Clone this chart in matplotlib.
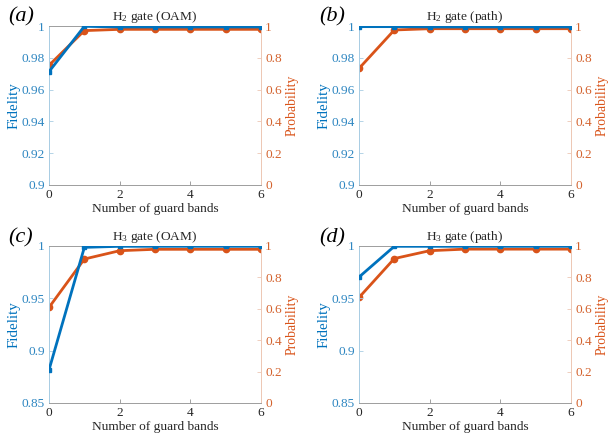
import matplotlib
matplotlib.use("Agg")
import matplotlib.pyplot as plt
import numpy as np

plt.rcParams['font.family'] = ['Liberation Serif', 'DejaVu Serif']
plt.rcParams['mathtext.fontset'] = 'custom'
plt.rcParams['mathtext.rm'] = 'Liberation Serif'
plt.rcParams['mathtext.it'] = 'Liberation Serif:italic'

guard_bands = [0, 1, 2, 3, 4, 5, 6]

fid_a = [0.9713, 0.9998, 0.9994, 0.9994, 0.9994, 0.9994, 0.9994]
prob_a = [0.753, 0.971, 0.979, 0.979, 0.979, 0.979, 0.979]
fid_b = [0.9996, 0.9996, 0.9994, 0.9994, 0.9994, 0.9994, 0.9994]
prob_b = [0.733, 0.975, 0.983, 0.983, 0.983, 0.983, 0.983]
fid_c = [0.8817, 0.9987, 0.9997, 0.9997, 0.9997, 0.9997, 0.9997]
prob_c = [0.609, 0.917, 0.970, 0.979, 0.979, 0.979, 0.979]
fid_d = [0.9703, 0.9997, 0.9997, 0.9997, 0.9997, 0.9997, 0.9997]
prob_d = [0.672, 0.920, 0.970, 0.980, 0.980, 0.980, 0.980]

titles = [r'H$_2$ gate (OAM)', r'H$_2$ gate (path)', r'H$_3$ gate (OAM)', r'H$_3$ gate (path)']
panel_labels = ['(a)', '(b)', '(c)', '(d)']
fid_ylims = [(0.9, 1.0), (0.9, 1.0), (0.85, 1.0), (0.85, 1.0)]
fid_ticks = [[0.9, 0.92, 0.94, 0.96, 0.98, 1.0], [0.9, 0.92, 0.94, 0.96, 0.98, 1.0],
             [0.85, 0.9, 0.95, 1.0], [0.85, 0.9, 0.95, 1.0]]
fid_ticklabels = [['0.9', '0.92', '0.94', '0.96', '0.98', '1'], ['0.9', '0.92', '0.94', '0.96', '0.98', '1'],
                  ['0.85', '0.9', '0.95', '1'], ['0.85', '0.9', '0.95', '1']]
prob_ticks = [0, 0.2, 0.4, 0.6, 0.8, 1.0]
prob_ticklabels = ['0', '0.2', '0.4', '0.6', '0.8', '1']
x_ticks = [0, 2, 4, 6]

fids = [fid_a, fid_b, fid_c, fid_d]
probs = [prob_a, prob_b, prob_c, prob_d]

blue = '#0072BD'
orange = '#D95319'
blue_tick = '#2E86C1'
orange_tick = '#D4632E'
blue_light = '#A9CDE3'
orange_light = '#EDC8B5'

fig = plt.figure(figsize=(6.09, 4.43), dpi=100)

positions = [
    [0.0805, 0.5824, 0.3481, 0.3589],
    [0.5895, 0.5824, 0.3481, 0.3589],
    [0.0805, 0.0903, 0.3481, 0.3544],
    [0.5895, 0.0903, 0.3481, 0.3544],
]
label_pos = [(0.014, 0.962), (0.524, 0.962), (0.014, 0.463), (0.524, 0.463)]

fs = 9.6
for i in range(4):
    ax = fig.add_axes(positions[i])
    ax2 = ax.twinx()
    ax.plot(guard_bands, fids[i], color=blue, lw=2, marker='s', ms=3.5, zorder=3)
    ax2.plot(guard_bands, probs[i], color=orange, lw=2, marker='o', ms=4.5, zorder=3)
    ax.set_xlim(0, 6)
    ax.set_ylim(*fid_ylims[i])
    ax2.set_ylim(0, 1)
    ax.set_xticks(x_ticks)
    ax.set_xticklabels([str(t) for t in x_ticks], fontsize=fs)
    ax.set_yticks(fid_ticks[i])
    ax.set_yticklabels(fid_ticklabels[i], fontsize=fs)
    ax2.set_yticks(prob_ticks)
    ax2.set_yticklabels(prob_ticklabels, fontsize=fs)
    ax.tick_params(axis='both', direction='in', length=3, width=0.6, pad=3)
    ax.tick_params(axis='y', colors=blue_light, labelcolor=blue_tick)
    ax.tick_params(axis='x', colors='#909090', labelcolor='#262626')
    ax2.tick_params(axis='y', direction='in', length=3, width=0.6, colors=orange_light,
                    labelcolor=orange_tick, pad=3)
    ax.set_xlabel('Number of guard bands', fontsize=fs, color='#262626', labelpad=1)
    ax.set_ylabel('Fidelity', fontsize=fs + 1.2, color=blue, labelpad=1)
    ax2.set_ylabel('Probability', fontsize=fs + 0.3, color=orange, labelpad=3)
    ax.set_title(titles[i], fontsize=fs, color='#262626', pad=4.5)
    for a in (ax, ax2):
        a.spines['top'].set_color('#A0A0A0')
        a.spines['bottom'].set_color('#A0A0A0')
        a.spines['left'].set_color(blue_light)
        a.spines['right'].set_color(orange_light)
        for s in a.spines.values():
            s.set_linewidth(0.7)
    ax.set_zorder(ax2.get_zorder() + 1)
    ax.patch.set_visible(False)
    fig.text(label_pos[i][0], label_pos[i][1], panel_labels[i], fontsize=16,
             fontstyle='italic', va='center', ha='left', color='black')

fig.savefig('out.png', dpi=100)
